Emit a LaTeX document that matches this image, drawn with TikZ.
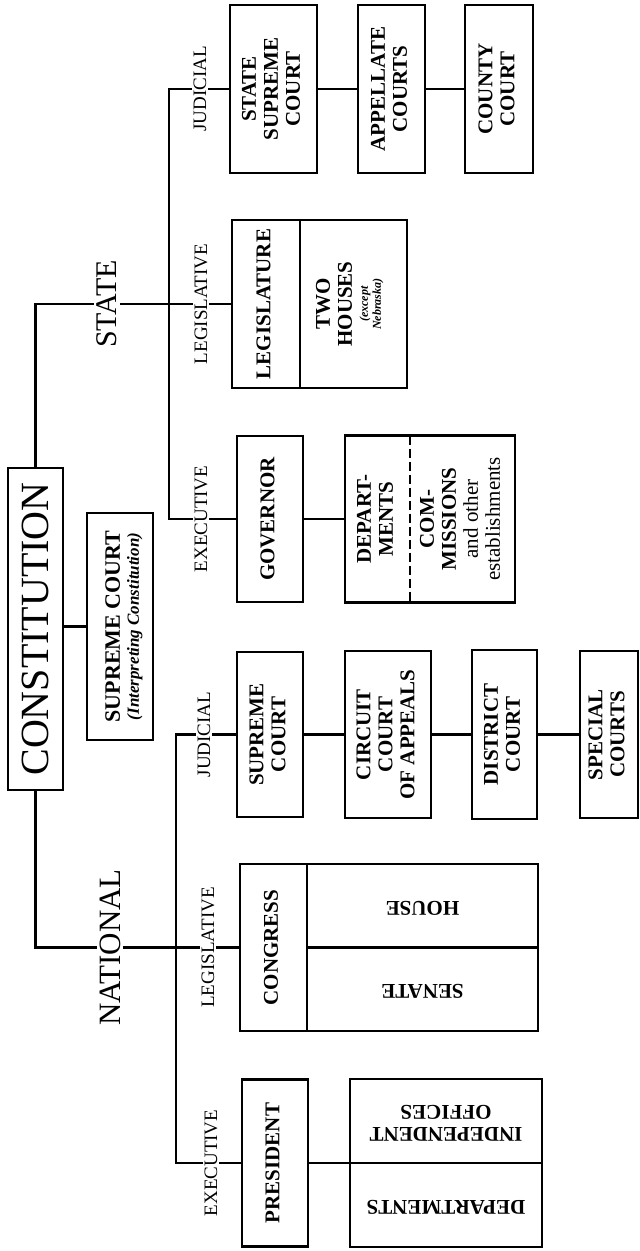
\documentclass[tikz,border=0pt]{standalone}
\usepackage{fontspec}
\setmainfont{Liberation Serif}
\newcommand{\rotA}[1]{\rotatebox{90}{\begin{tabular}{@{}c@{}}#1\end{tabular}}}
\newcommand{\rotB}[1]{\rotatebox{180}{\begin{tabular}{@{}c@{}}#1\end{tabular}}}
\newcommand{\smallit}{\fontsize{12}{13}\selectfont\itshape}
\tikzset{
  box/.style={draw, line width=2.4pt, fill=white, inner sep=0pt, rectangle},
  boxtext/.style={inner sep=0pt, font=\fontsize{21}{22}\selectfont\bfseries},
  branch/.style={fill=white, inner sep=1.5pt, font=\fontsize{19}{20}\selectfont},
  head/.style={fill=white, inner sep=3pt, font=\fontsize{30}{32}\selectfont},
  link/.style={line width=2.6pt},
  divider/.style={line width=2.2pt},
}
\begin{document}
\begin{tikzpicture}[x=1pt,y=-1pt]
\useasboundingbox (0,0) rectangle (640,1251);

% ---------- boxes ----------
\node[box, minimum width=55pt, minimum height=322pt] (con) at (35.5,629)
  {\fontsize{40}{42}\selectfont\rotatebox{90}{CONSTITUTION}};
\node[box, minimum width=66pt, minimum height=227pt] (sc) at (120,626.5) {};
\node[boxtext] (scT) at (125,626.5)
  {\rotA{{\fontsize{22}{23}\selectfont SUPREME COURT}\\[-3pt]{\fontsize{17}{18}\selectfont\itshape (Interpreting Constitution)}}};

% state
\node[box, boxtext, minimum width=87pt, minimum height=168pt] (ssc) at (273.5,89) {\rotA{STATE\\SUPREME\\COURT}};
\node[box, boxtext, minimum width=67pt, minimum height=168pt] (app) at (391.5,89) {\rotA{APPELLATE\\COURTS}};
\node[box, boxtext, minimum width=68pt, minimum height=168pt] (cty) at (499,89) {\rotA{COUNTY\\COURT}};

\node[box, minimum width=175pt, minimum height=168pt] (leg) at (319.5,304) {};
\node[boxtext] (legA) at (266,304) {\rotA{LEGISLATURE}};
\node[boxtext] (legB) at (351,304) {\rotA{TWO\\HOUSES\\[-6pt]{\smallit (except}\\[-9pt]{\smallit Nebraska)}}};
\draw[divider] (300,220) -- (300,388);

\node[box, boxtext, minimum width=66pt, minimum height=166pt] (gov) at (270,519) {\rotA{GOVERNOR}};

\node[box, minimum width=170pt, minimum height=167pt] (dep) at (430,519) {};
\node[boxtext] (depA) at (377.5,519) {\rotA{DEPART-\\MENTS}};
\node[boxtext] (depB) at (462.5,519) {\rotA{COM-\\MISSIONS\\{\mdseries and other}\\{\mdseries establishments}}};
\draw[line width=1.8pt, dash pattern=on 9pt off 4pt] (410,435.5) -- (410,602.5);

% national
\node[box, boxtext, minimum width=66pt, minimum height=165pt] (nsc) at (270,734.5) {\rotA{SUPREME\\COURT}};
\node[box, boxtext, minimum width=86pt, minimum height=167pt] (cir) at (388,734.5) {\rotA{CIRCUIT\\COURT\\OF APPEALS}};
\node[box, boxtext, minimum width=65pt, minimum height=169pt] (dis) at (504.5,734.5) {\rotA{DISTRICT\\COURT}};
\node[box, boxtext, minimum width=58pt, minimum height=167pt] (spc) at (609,734.5) {\rotA{SPECIAL\\COURTS}};

\node[box, minimum width=298pt, minimum height=167pt] (cgr) at (389,947.5) {};
\node[boxtext] (cgrA) at (273.5,947.5) {\rotA{CONGRESS}};
\node[boxtext] (house) at (422.5,905.5) {\rotB{HOUSE}};
\node[boxtext] (senate) at (422.5,989) {\rotB{SENATE}};
\draw[divider] (307,864) -- (307,1031);
\draw[divider] (307,947.5) -- (cgr.east);

\node[box, boxtext, minimum width=66pt, minimum height=167pt] (pres) at (275,1163) {\rotA{PRESIDENT}};
\node[box, minimum width=192pt, minimum height=168pt] (ind) at (446,1163) {};
\node[boxtext] (indA) at (446,1121) {\rotB{INDEPENDENT\\OFFICES}};
\node[boxtext] (indB) at (446,1205) {\rotB{DEPARTMENTS}};
\draw[divider] (ind.west) -- (ind.east);

% ---------- connectors ----------
\draw[link] (con.north) |- (legA.west -| leg.west);
\draw[link] (con.south) |- (cgr.west);
\draw[link] (sc.west -| con.east) -- (sc.west);

\draw[link] (ssc.west) -| ([xshift=-67pt]gov.west) -- (gov.west);
\draw[link] (ssc.east) -- (app.west);
\draw[link] (app.east) -- (cty.west);
\draw[link] (gov.east) -- (dep.west);

\draw[link] (nsc.west) -| ([xshift=-65pt]pres.west) -- (pres.west);
\draw[link] (nsc.east) -- (cir.west);
\draw[link] (cir.east) -- (dis.west);
\draw[link] (dis.east) -- (spc.west);
\draw[link] (pres.east) -- (ind.west);

% ---------- labels ----------
\node[head] (lstate) at (107,304) {\rotatebox{90}{STATE}};
\node[head, font=\fontsize{31}{33}\selectfont] (lnat) at (110,947.5) {\rotatebox{90}{NATIONAL}};
\node[branch] (lsj) at (200,89) {\rotatebox{90}{JUDICIAL}};
\node[branch] (lsl) at (201,304) {\rotatebox{90}{LEGISLATIVE}};
\node[branch] (lse) at (201,519) {\rotatebox{90}{EXECUTIVE}};
\node[branch] (lnj) at (204,734.5) {\rotatebox{90}{JUDICIAL}};
\node[branch] (lnl) at (208,947.5) {\rotatebox{90}{LEGISLATIVE}};
\node[branch] (lne) at (211,1163) {\rotatebox{90}{EXECUTIVE}};
\end{tikzpicture}
\end{document}
